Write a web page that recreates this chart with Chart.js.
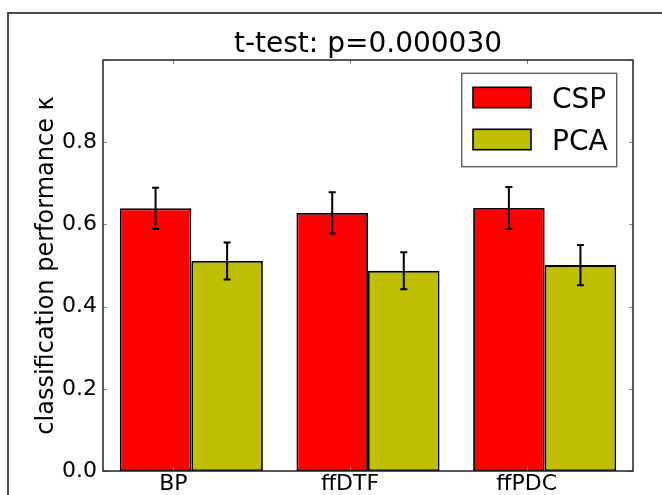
<!DOCTYPE html>
<html><head><meta charset="utf-8">
<script src="https://cdn.jsdelivr.net/npm/chart.js@4"></script>
<style>
html,body{margin:0;padding:0;background:#fff;}
#wrap{position:relative;width:662px;height:495px;overflow:hidden;background:#fff;}
#frame{position:absolute;left:7px;top:12px;width:700px;height:600px;border-left:2px solid #4a4a4a;border-top:2px solid #4a4a4a;}
canvas{position:absolute;left:0;top:0;}
</style></head><body>
<div id="wrap"><div id="frame"></div><canvas id="c" width="662" height="495"></canvas></div>
<script>
const categories = ['BP', 'ffDTF', 'ffPDC'];
const seriesNames = ['CSP', 'PCA'];
const cspValues = [0.639, 0.628, 0.640];
const cspErrors = [0.050, 0.050, 0.051];
const pcaValues = [0.511, 0.487, 0.501];
const pcaErrors = [0.045, 0.045, 0.049];
const yTickLabels = ['0.0', '0.2', '0.4', '0.6', '0.8'];
const titleText = 't-test: p=0.000030';
const yAxisLabel = 'classification performance \u03BA';

const FONT = "'DejaVu Sans', 'Liberation Sans', sans-serif";
const LABEL_SHIFT = -18;

const errorBars = {
  id: 'errorBars',
  afterDatasetsDraw(chart) {
    const ctx = chart.ctx, y = chart.scales.y;
    ctx.save();
    ctx.strokeStyle = '#000';
    ctx.lineWidth = 2;
    chart.data.datasets.forEach((ds, di) => {
      const meta = chart.getDatasetMeta(di);
      meta.data.forEach((bar, i) => {
        const v = ds.data[i], e = ds.errors[i];
        const yT = y.getPixelForValue(v + e), yB = y.getPixelForValue(v - e);
        ctx.beginPath();
        ctx.moveTo(bar.x, yT); ctx.lineTo(bar.x, yB);
        ctx.moveTo(bar.x - 3.5, yT); ctx.lineTo(bar.x + 3.5, yT);
        ctx.moveTo(bar.x - 3.5, yB); ctx.lineTo(bar.x + 3.5, yB);
        ctx.stroke();
      });
    });
    ctx.restore();
  }
};

const frameAndTicks = {
  id: 'frameAndTicks',
  afterDraw(chart) {
    const ctx = chart.ctx, ca = chart.chartArea, x = chart.scales.x, y = chart.scales.y;
    ctx.save();
    ctx.strokeStyle = '#888';
    ctx.lineWidth = 1;
    ctx.beginPath();
    y.ticks.forEach((t) => {
      const py = Math.round(y.getPixelForValue(t.value)) + 0.5;
      ctx.moveTo(ca.left, py); ctx.lineTo(ca.left + 4, py);
      ctx.moveTo(ca.right, py); ctx.lineTo(ca.right - 4, py);
    });
    categories.forEach((c, i) => {
      const px = Math.round(x.getPixelForValue(i) + LABEL_SHIFT) + 0.5;
      ctx.moveTo(px, ca.top); ctx.lineTo(px, ca.top + 4);
      ctx.moveTo(px, ca.bottom); ctx.lineTo(px, ca.bottom - 4);
    });
    ctx.stroke();
    ctx.strokeStyle = '#222';
    ctx.lineWidth = 1.5;
    ctx.strokeRect(ca.left, ca.top, ca.right - ca.left, ca.bottom - ca.top);
    const bw = 155, bh = 93.4;
    const bx = ca.right - 16.3 - bw, by = ca.top + 13.3;
    ctx.fillStyle = '#fff';
    ctx.fillRect(bx, by, bw, bh);
    ctx.strokeStyle = '#555';
    ctx.lineWidth = 1.3;
    ctx.strokeRect(bx, by, bw, bh);
    chart.data.datasets.forEach((ds, i) => {
      const py = by + 14 + i * 42;
      ctx.fillStyle = ds.backgroundColor;
      ctx.fillRect(bx + 11.3, py, 58, 20.4);
      ctx.strokeStyle = '#000';
      ctx.lineWidth = 1.6;
      ctx.strokeRect(bx + 11.3, py, 58, 20.4);
      ctx.fillStyle = '#000';
      ctx.font = '28px ' + FONT;
      ctx.textBaseline = 'alphabetic';
      ctx.textAlign = 'left';
      ctx.fillText(ds.label, bx + 90.3, py + 20.4);
    });
    ctx.restore();
  }
};

new Chart(document.getElementById('c'), {
  type: 'bar',
  data: {
    labels: categories,
    datasets: [
      { label: seriesNames[0], data: cspValues, errors: cspErrors, backgroundColor: '#ff0000',
        borderColor: '#000', borderWidth: 1.8, borderSkipped: false },
      { label: seriesNames[1], data: pcaValues, errors: pcaErrors, backgroundColor: '#bfbf00',
        borderColor: '#000', borderWidth: 1.8, borderSkipped: false }
    ]
  },
  options: {
    responsive: false,
    devicePixelRatio: 1,
    animation: false,
    layout: { padding: { left: 0, right: 29, top: 0, bottom: 0 } },
    datasets: { bar: { barPercentage: 1, categoryPercentage: 0.81 } },
    plugins: {
      legend: { display: false },
      tooltip: { enabled: false },
      title: { display: false }
    },
    scales: {
      x: {
        grid: { display: false, drawTicks: false },
        border: { display: false },
        ticks: { color: '#000', font: { family: FONT, size: 22 }, padding: 0, labelOffset: LABEL_SHIFT, maxRotation: 0 },
        afterFit(s) { s.height = 24; }
      },
      xTop: {
        type: 'category',
        position: 'top',
        grid: { display: false, drawTicks: false },
        border: { display: false },
        ticks: { display: false },
        title: {
          display: true, text: titleText, color: '#000',
          font: { family: FONT, size: 28, lineHeight: 1 },
          padding: { top: 31, bottom: 0 }
        },
        afterFit(s) { s.height = 60; }
      },
      y: {
        min: 0, max: 1,
        grid: { display: false, drawTicks: false },
        border: { display: false },
        ticks: {
          stepSize: 0.2, color: '#000', padding: 6,
          font: { family: FONT, size: 22 },
          callback: (v, i) => (yTickLabels[i] !== undefined ? yTickLabels[i] : '')
        },
        title: {
          display: true, text: yAxisLabel, color: '#000',
          font: { family: FONT, size: 24, lineHeight: 1.2 },
          padding: { top: 32, bottom: 0 }
        },
        afterFit(s) { s.width = 103; }
      }
    }
  },
  plugins: [errorBars, frameAndTicks]
});
</script>
</body></html>
